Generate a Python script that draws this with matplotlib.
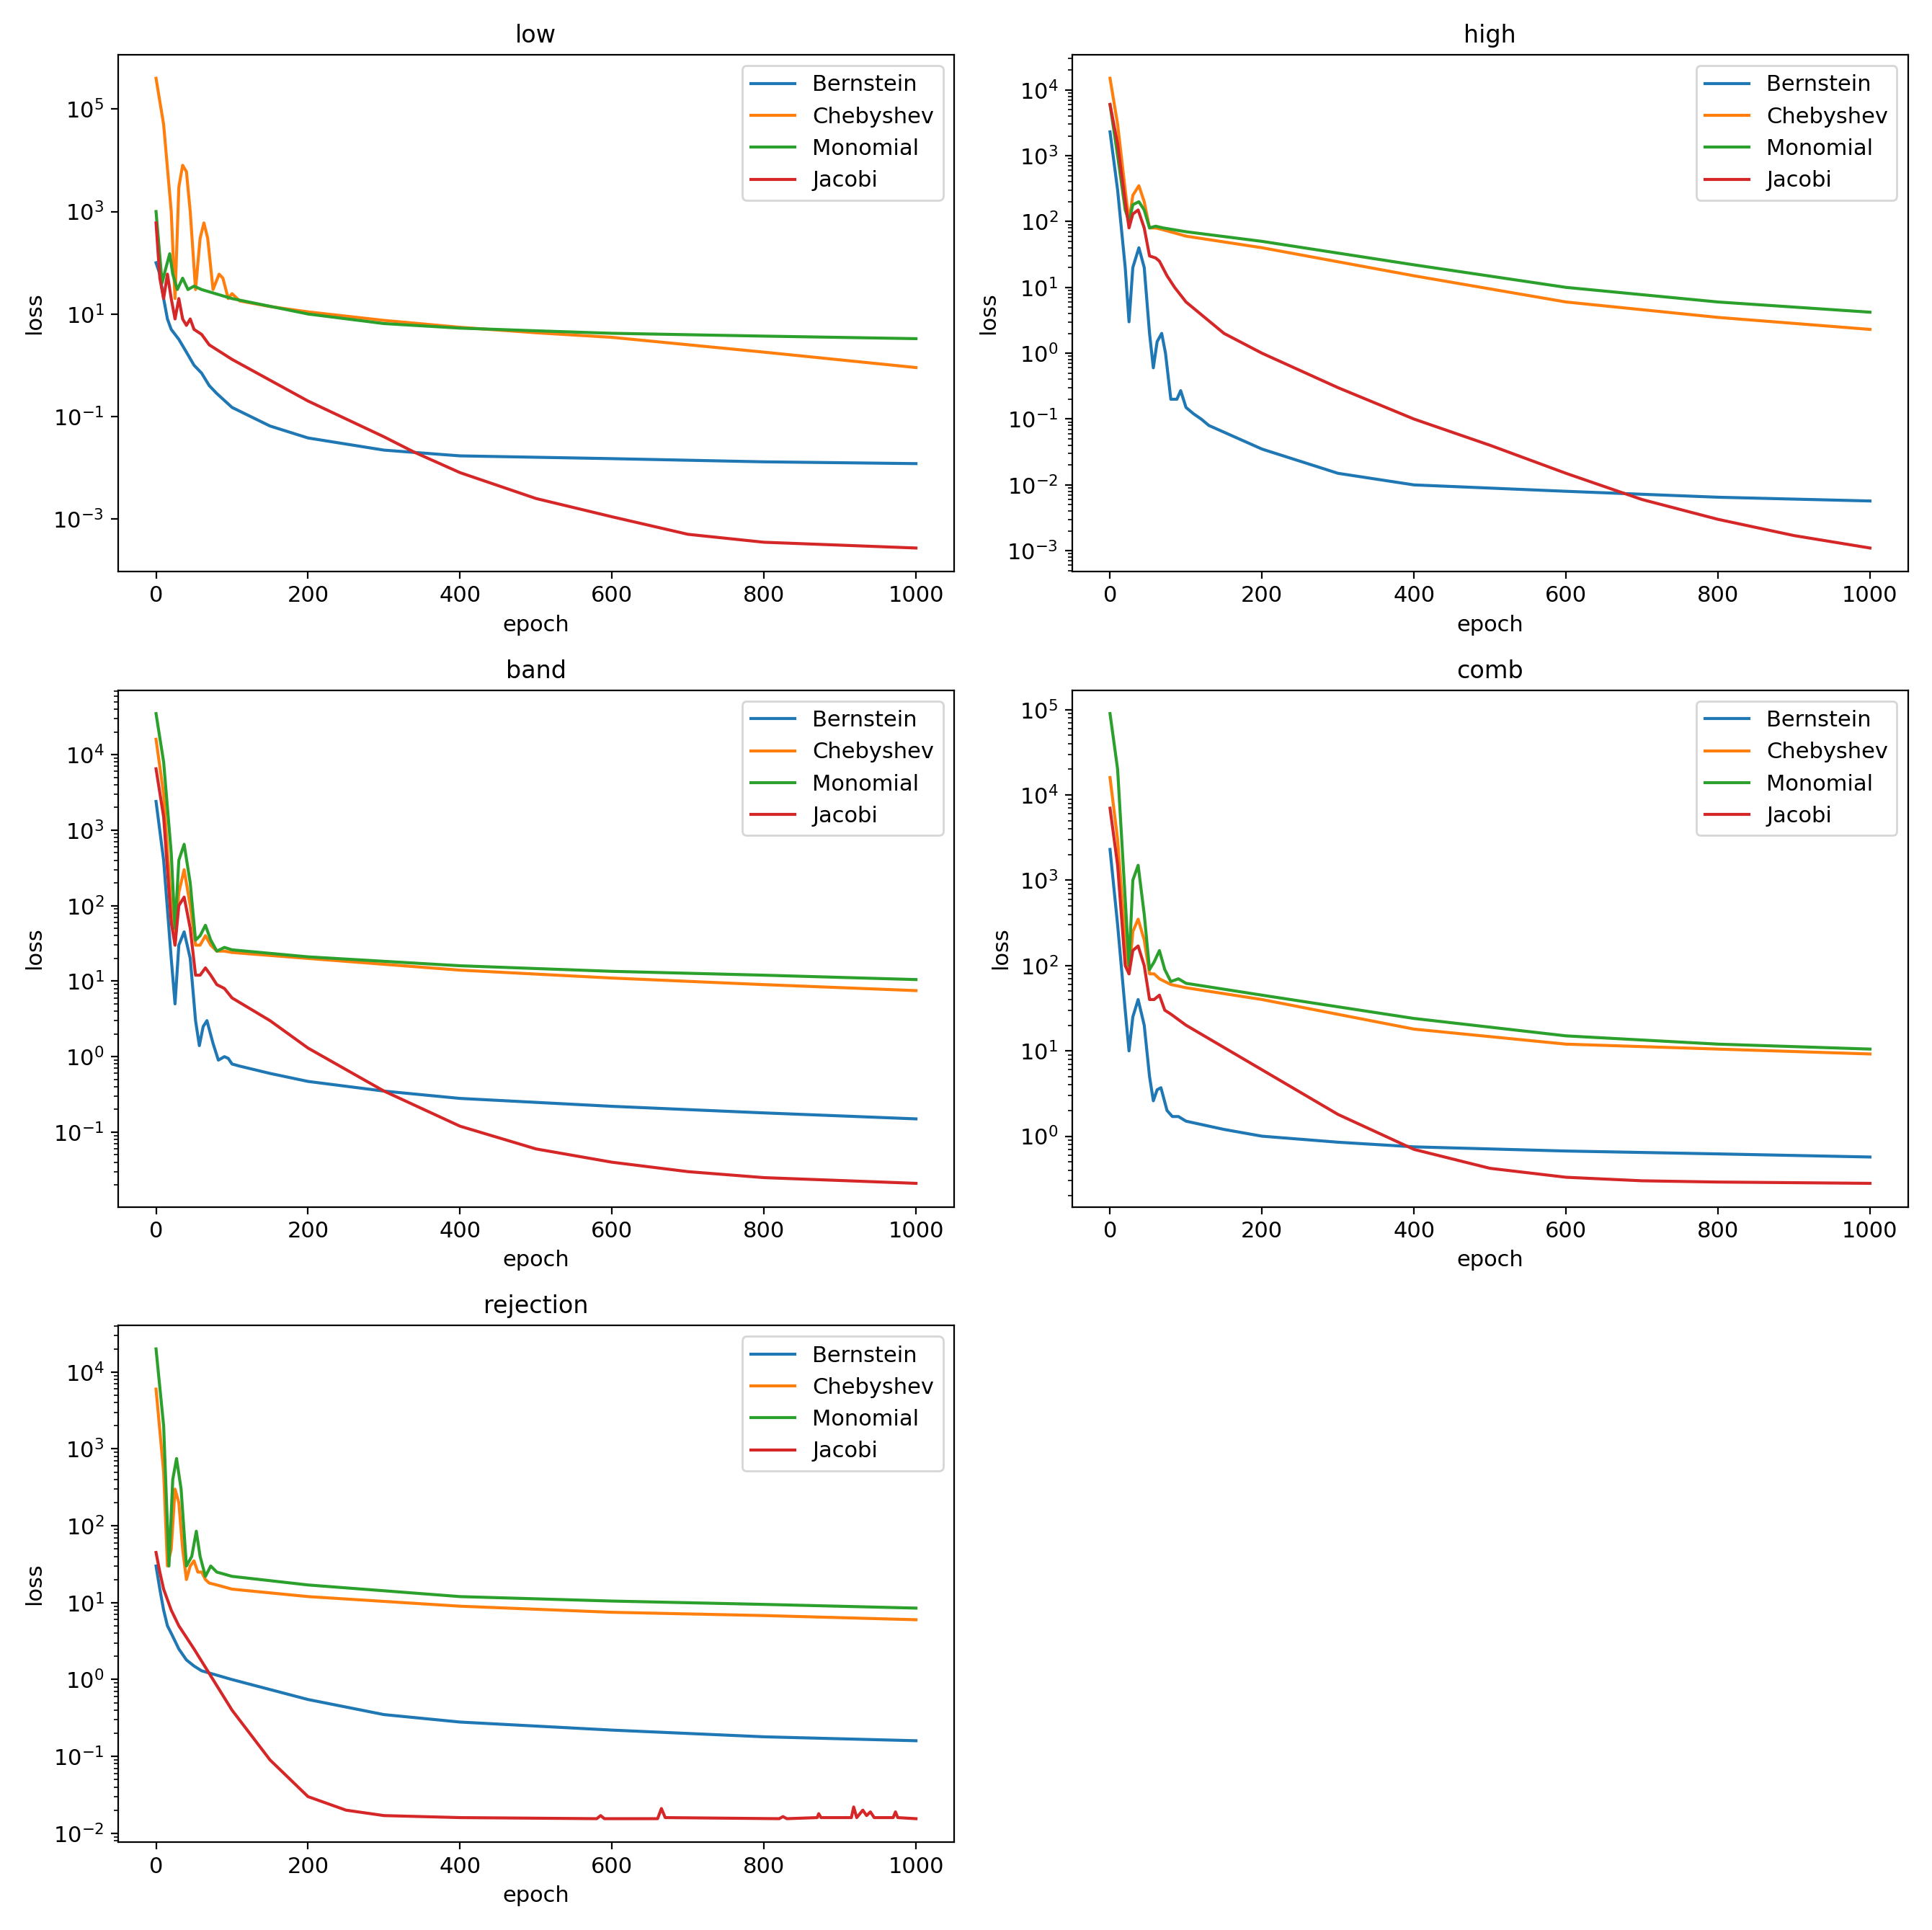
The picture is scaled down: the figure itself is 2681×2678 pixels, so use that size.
import matplotlib
matplotlib.use("Agg")
import matplotlib.pyplot as plt

names = ["Bernstein", "Chebyshev", "Monomial", "Jacobi"]
titles = ["low", "high", "band", "comb", "rejection"]

low_bern = [(0,100),(5,60),(10,20),(15,8),(20,5),(30,3.2),(40,1.8),(50,1.0),(60,0.7),(70,0.4),(80,0.28),(100,0.15),(150,0.065),(200,0.038),(300,0.022),(400,0.017),(600,0.015),(800,0.013),(1000,0.012)]
low_cheb = [(0,400000),(10,50000),(20,1000),(25,20),(30,3000),(35,8000),(40,6000),(45,1000),(52,30),(58,300),(63,600),(68,300),(75,30),(83,60),(88,50),(95,20),(100,25),(110,18),(150,14),(200,11),(300,7.5),(400,5.5),(500,4.3),(600,3.5),(800,1.8),(1000,0.9)]
low_mono = [(0,1000),(8,40),(12,70),(18,150),(22,60),(28,30),(35,50),(42,30),(50,35),(60,30),(100,20),(200,10),(300,6.5),(400,5.3),(500,4.7),(600,4.2),(800,3.7),(1000,3.3)]
low_jac = [(0,600),(5,50),(10,20),(15,60),(20,20),(25,8),(30,20),(35,8),(40,6),(45,8),(50,5),(60,4),(70,2.5),(100,1.3),(200,0.2),(300,0.04),(340,0.02),(400,0.008),(500,0.0025),(600,0.0011),(700,0.0005),(800,0.00035),(1000,0.00027)]

high_bern = [(0,2300),(10,300),(20,20),(25,3),(30,20),(38,40),(45,20),(52,2),(57,0.6),(62,1.5),(68,2),(73,1),(80,0.2),(88,0.2),(93,0.27),(100,0.15),(110,0.12),(120,0.1),(130,0.08),(200,0.035),(300,0.015),(400,0.01),(600,0.008),(800,0.0065),(1000,0.0057)]
high_cheb = [(0,15000),(10,3000),(20,300),(25,100),(30,250),(38,350),(45,200),(52,80),(60,80),(70,75),(100,60),(200,40),(400,15),(600,6),(800,3.5),(1000,2.3)]
high_mono = [(0,6000),(10,1000),(20,150),(25,100),(30,180),(38,200),(45,150),(52,80),(60,85),(70,80),(100,70),(200,50),(400,22),(600,10),(800,6),(1000,4.2)]
high_jac = [(0,6000),(10,1500),(20,200),(25,80),(30,130),(37,150),(45,80),(52,30),(60,28),(65,25),(75,15),(85,10),(100,6),(150,2),(200,1),(300,0.3),(400,0.1),(500,0.04),(600,0.015),(700,0.006),(800,0.003),(900,0.0017),(1000,0.0011)]

band_bern = [(0,2400),(10,400),(20,20),(25,5),(30,30),(37,45),(45,20),(52,3),(57,1.4),(62,2.5),(67,3),(75,1.5),(82,0.9),(90,1.0),(95,0.95),(100,0.8),(110,0.75),(150,0.6),(200,0.47),(300,0.35),(400,0.28),(600,0.22),(800,0.18),(1000,0.15)]
band_cheb = [(0,16000),(10,3000),(20,100),(25,30),(30,150),(37,300),(45,100),(52,30),(58,30),(65,40),(72,30),(80,25),(90,25),(100,24),(200,20),(400,14),(600,11),(800,9),(1000,7.5)]
band_mono = [(0,35000),(10,8000),(20,500),(25,50),(30,400),(37,650),(45,200),(52,35),(58,40),(65,55),(72,35),(80,25),(90,28),(100,26),(200,21),(400,16),(600,13.5),(800,12),(1000,10.5)]
band_jac = [(0,6500),(10,1500),(20,60),(25,30),(30,100),(37,130),(45,50),(52,12),(58,12),(65,15),(72,12),(80,9),(90,8),(100,6),(150,3),(200,1.3),(300,0.35),(400,0.12),(500,0.06),(600,0.04),(700,0.03),(800,0.025),(1000,0.021)]

comb_bern = [(0,2300),(10,300),(20,30),(25,10),(30,25),(37,40),(45,20),(52,5),(57,2.6),(62,3.5),(67,3.7),(75,2),(82,1.7),(90,1.7),(100,1.5),(150,1.2),(200,1.0),(300,0.85),(400,0.75),(600,0.67),(800,0.62),(1000,0.57)]
comb_cheb = [(0,16000),(10,3000),(20,200),(25,80),(30,250),(37,350),(45,200),(52,80),(58,80),(65,70),(80,60),(100,55),(200,40),(400,18),(600,12),(800,10.5),(1000,9.2)]
comb_mono = [(0,90000),(10,20000),(20,600),(25,100),(30,1000),(37,1500),(45,400),(52,90),(58,110),(65,150),(72,90),(80,65),(90,70),(100,62),(200,45),(400,24),(600,15),(800,12),(1000,10.5)]
comb_jac = [(0,7000),(10,1500),(20,100),(25,80),(30,150),(37,170),(45,100),(52,40),(58,40),(65,45),(72,30),(80,27),(100,20),(200,6),(300,1.8),(400,0.7),(500,0.42),(600,0.33),(700,0.3),(800,0.29),(1000,0.28)]

rej_bern = [(0,30),(5,15),(10,8),(15,5),(20,4),(30,2.5),(40,1.8),(50,1.5),(60,1.3),(100,1.0),(200,0.55),(300,0.35),(400,0.28),(600,0.22),(800,0.18),(1000,0.16)]
rej_cheb = [(0,6000),(10,500),(15,30),(20,50),(25,300),(30,200),(35,50),(40,20),(45,30),(50,35),(55,25),(60,25),(65,20),(70,18),(80,17),(100,15),(200,12),(400,9),(600,7.5),(800,6.8),(1000,6)]
rej_mono = [(0,20000),(10,2000),(17,30),(22,400),(27,750),(33,300),(40,30),(47,40),(53,85),(58,40),(65,22),(72,30),(80,25),(100,22),(200,17),(400,12),(600,10.5),(800,9.5),(1000,8.5)]
rej_jac = [(0,45),(5,25),(10,15),(20,8),(30,5),(50,2.5),(75,1),(100,0.4),(150,0.09),(200,0.03),(250,0.02),(300,0.017),(400,0.016),(580,0.0155),(585,0.017),(590,0.0155),(660,0.0155),(665,0.021),(670,0.016),(820,0.0155),(825,0.0165),(830,0.0155),(870,0.016),(872,0.018),(875,0.016),(915,0.016),(918,0.022),(922,0.016),(930,0.02),(935,0.017),(940,0.019),(945,0.016),(970,0.016),(973,0.019),(976,0.016),(1000,0.0155)]

panels = [
    [low_bern, low_cheb, low_mono, low_jac],
    [high_bern, high_cheb, high_mono, high_jac],
    [band_bern, band_cheb, band_mono, band_jac],
    [comb_bern, comb_cheb, comb_mono, comb_jac],
    [rej_bern, rej_cheb, rej_mono, rej_jac],
]
colors = ["#1f77b4", "#ff7f0e", "#2ca02c", "#d62728"]

fig, axes = plt.subplots(3, 2, figsize=(13.405, 13.39), dpi=200)
axes = axes.ravel()
for i, (title, series) in enumerate(zip(titles, panels)):
    ax = axes[i]
    for name, s, c in zip(names, series, colors):
        ax.plot([p[0] for p in s], [p[1] for p in s], color=c, label=name, lw=1.5)
    ax.set_yscale("log")
    ax.set_title(title, fontsize=12)
    ax.set_xlabel("epoch", fontsize=11)
    ax.set_ylabel("loss", fontsize=11)
    ax.tick_params(labelsize=11)
    ax.legend(loc="upper right", fontsize=11)
axes[5].axis("off")
fig.tight_layout(pad=1.2)
fig.savefig("out.png")
